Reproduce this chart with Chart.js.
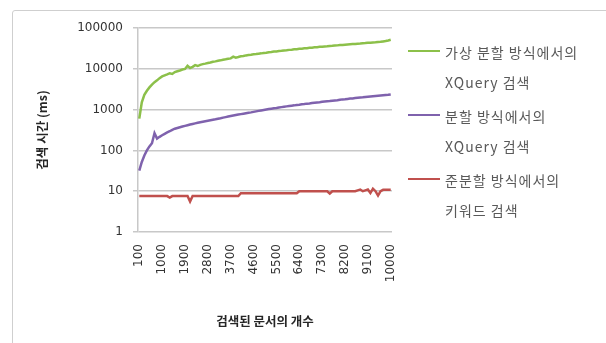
<!DOCTYPE html>
<html>
<head>
<meta charset="utf-8">
<script src="https://cdn.jsdelivr.net/npm/chart.js@4"></script>
<style>
  html, body { margin: 0; padding: 0; background: #fff; }
  #wrap { position: relative; width: 606px; height: 343px; overflow: hidden; }
  #frame { position: absolute; left: 12px; top: 10px; width: 600px; height: 340px; border: 1px solid #cfcfcf; border-radius: 3px; box-sizing: border-box; }
  canvas { position: absolute; left: 0; top: 0; }
  .leg { position: absolute; left: 408px; font-family: "Noto Sans CJK KR", sans-serif; font-size: 14px; color: #595959; letter-spacing: 1px; line-height: 30px; }
  .leg i { position: absolute; left: 0; top: 13px; width: 32px; height: 2px; }
  .leg span { display: block; margin-left: 37px; }
</style>
</head>
<body>
<div id="wrap">
  <div id="frame"></div>
  <canvas id="c" width="606" height="343"></canvas>
  <div class="leg" style="top:37px"><i style="background:#8cc04a"></i><span>가상 분할 방식에서의</span><span>XQuery 검색</span></div>
  <div class="leg" style="top:101px"><i style="background:#7f62ad"></i><span>분할 방식에서의</span><span>XQuery 검색</span></div>
  <div class="leg" style="top:165px"><i style="background:#c0504d"></i><span>준분할 방식에서의</span><span>키워드 검색</span></div>
</div>
<script>
const docCounts = [100, 200, 300, 400, 500, 600, 700, 800, 900, 1000,
  1100, 1200, 1300, 1400, 1500, 1600, 1700, 1800, 1900, 2000,
  2100, 2200, 2300, 2400, 2500, 2600, 2700, 2800, 2900, 3000,
  3100, 3200, 3300, 3400, 3500, 3600, 3700, 3800, 3900, 4000,
  4100, 4200, 4300, 4400, 4500, 4600, 4700, 4800, 4900, 5000,
  5100, 5200, 5300, 5400, 5500, 5600, 5700, 5800, 5900, 6000,
  6100, 6200, 6300, 6400, 6500, 6600, 6700, 6800, 6900, 7000,
  7100, 7200, 7300, 7400, 7500, 7600, 7700, 7800, 7900, 8000,
  8100, 8200, 8300, 8400, 8500, 8600, 8700, 8800, 8900, 9000,
  9100, 9200, 9300, 9400, 9500, 9600, 9700, 9800, 9900, 10000];

const virtualSplitXQuery = [600, 1500, 2300, 2900, 3500, 4100, 4700, 5200, 5900, 6500,
  6900, 7300, 7800, 7500, 8300, 8700, 9100, 9600, 9900, 11800,
  10500, 11200, 12300, 11700, 12500, 13000, 13400, 13900, 14300, 14900,
  15200, 15800, 16100, 16700, 17100, 17600, 18000, 19800, 18700, 19400,
  20200, 20500, 21300, 21700, 22000, 22600, 23000, 23500, 23900, 24500,
  24800, 25400, 25700, 26400, 26700, 27300, 27600, 28200, 28500, 29100,
  29400, 30000, 30300, 30900, 31200, 31800, 32100, 32600, 33000, 33600,
  33900, 34500, 34800, 35300, 35700, 36300, 36600, 37100, 37500, 38100,
  38400, 38900, 39400, 39900, 40300, 40800, 41300, 41700, 42300, 42700,
  43300, 43700, 44400, 44800, 45500, 46000, 46900, 47800, 49500, 51500];

const splitXQuery = [32, 52, 75, 100, 125, 150, 265, 195, 215, 235,
  255, 275, 295, 320, 340, 355, 370, 385, 400, 415,
  430, 445, 460, 475, 490, 505, 520, 535, 550, 565,
  580, 598, 615, 635, 655, 675, 695, 715, 735, 755,
  775, 795, 815, 835, 855, 880, 905, 930, 955, 980,
  1005, 1030, 1055, 1080, 1100, 1125, 1150, 1175, 1200, 1225,
  1250, 1270, 1300, 1320, 1350, 1370, 1400, 1420, 1450, 1475,
  1500, 1520, 1550, 1575, 1600, 1620, 1650, 1680, 1700, 1740,
  1780, 1800, 1830, 1860, 1880, 1920, 1950, 1980, 2000, 2040,
  2070, 2100, 2130, 2160, 2190, 2220, 2250, 2280, 2310, 2350];

const semiSplitKeyword = [7.6, 7.6, 7.6, 7.6, 7.6, 7.6, 7.6, 7.6, 7.6, 7.6,
  7.6, 7.6, 7.0, 7.6, 7.6, 7.6, 7.6, 7.6, 7.6, 7.6,
  5.6, 7.6, 7.6, 7.6, 7.6, 7.6, 7.6, 7.6, 7.6, 7.6,
  7.6, 7.6, 7.6, 7.6, 7.6, 7.6, 7.6, 7.6, 7.6, 7.6,
  8.9, 8.9, 8.9, 8.9, 8.9, 8.9, 8.9, 8.9, 8.9, 8.9,
  8.9, 8.9, 8.9, 8.9, 8.9, 8.9, 8.9, 8.9, 8.9, 8.9,
  8.9, 8.9, 8.9, 10, 10, 10, 10, 10, 10, 10,
  10, 10, 10, 10, 10, 8.8, 10, 10, 10, 10,
  10, 10, 10, 10, 10, 10, 10.5, 11, 10, 10.5,
  11, 9, 11.5, 10, 7.8, 10, 10.8, 10.8, 10.8, 10.8];

const yTicks = [1, 10, 100, 1000, 10000, 100000];

const tickFont = { family: 'DejaVu Sans', size: 12 };
const titleFont = { family: 'Noto Sans CJK KR', size: 12.5, weight: 'bold' };

const series = [
  { label: '가상 분할 방식에서의 XQuery 검색', data: virtualSplitXQuery, color: '#8cc04a' },
  { label: '분할 방식에서의 XQuery 검색', data: splitXQuery, color: '#7f62ad' },
  { label: '준분할 방식에서의 키워드 검색', data: semiSplitKeyword, color: '#c0504d' }
];

new Chart(document.getElementById('c'), {
  type: 'line',
  data: {
    labels: docCounts,
    datasets: series.map(s => ({
      label: s.label,
      data: s.data,
      borderColor: s.color,
      backgroundColor: s.color,
      borderWidth: 2.5,
      pointRadius: 0,
      tension: 0
    }))
  },
  options: {
    responsive: false,
    animation: false,
    layout: { padding: { left: 35, right: 214, top: 28, bottom: 14 } },
    plugins: { legend: { display: false }, tooltip: { enabled: false } },
    scales: {
      x: {
        type: 'category',
        offset: true,
        afterFit: scale => { scale.height = 97; },
        grid: { display: false, drawTicks: false },
        border: { display: false },
        ticks: {
          autoSkip: false,
          maxRotation: 90,
          minRotation: 90,
          padding: 12,
          color: '#333333',
          font: tickFont,
          // Excel showed every 9th category
          callback: (value, index) => index % 9 === 0 ? docCounts[index] : ''
        },
        title: { display: true, text: '검색된 문서의 개수', color: '#262626', font: titleFont, padding: { top: 4, bottom: 0 } }
      },
      y: {
        type: 'logarithmic',
        min: 1,
        max: 100000,
        afterFit: scale => { scale.width = 103; },
        afterBuildTicks: scale => { scale.ticks = yTicks.map(v => ({ value: v })); },
        grid: { color: '#c8c8c8', lineWidth: 1.5, tickLength: 5 },
        border: { color: '#c8c8c8', width: 1.5 },
        ticks: { padding: 10, color: '#333333', font: tickFont, callback: v => String(v) },
        title: { display: true, text: '검색 시간 (ms)', color: '#262626', font: titleFont, padding: { top: 0, bottom: 0 } }
      }
    }
  }
});
</script>
</body>
</html>
